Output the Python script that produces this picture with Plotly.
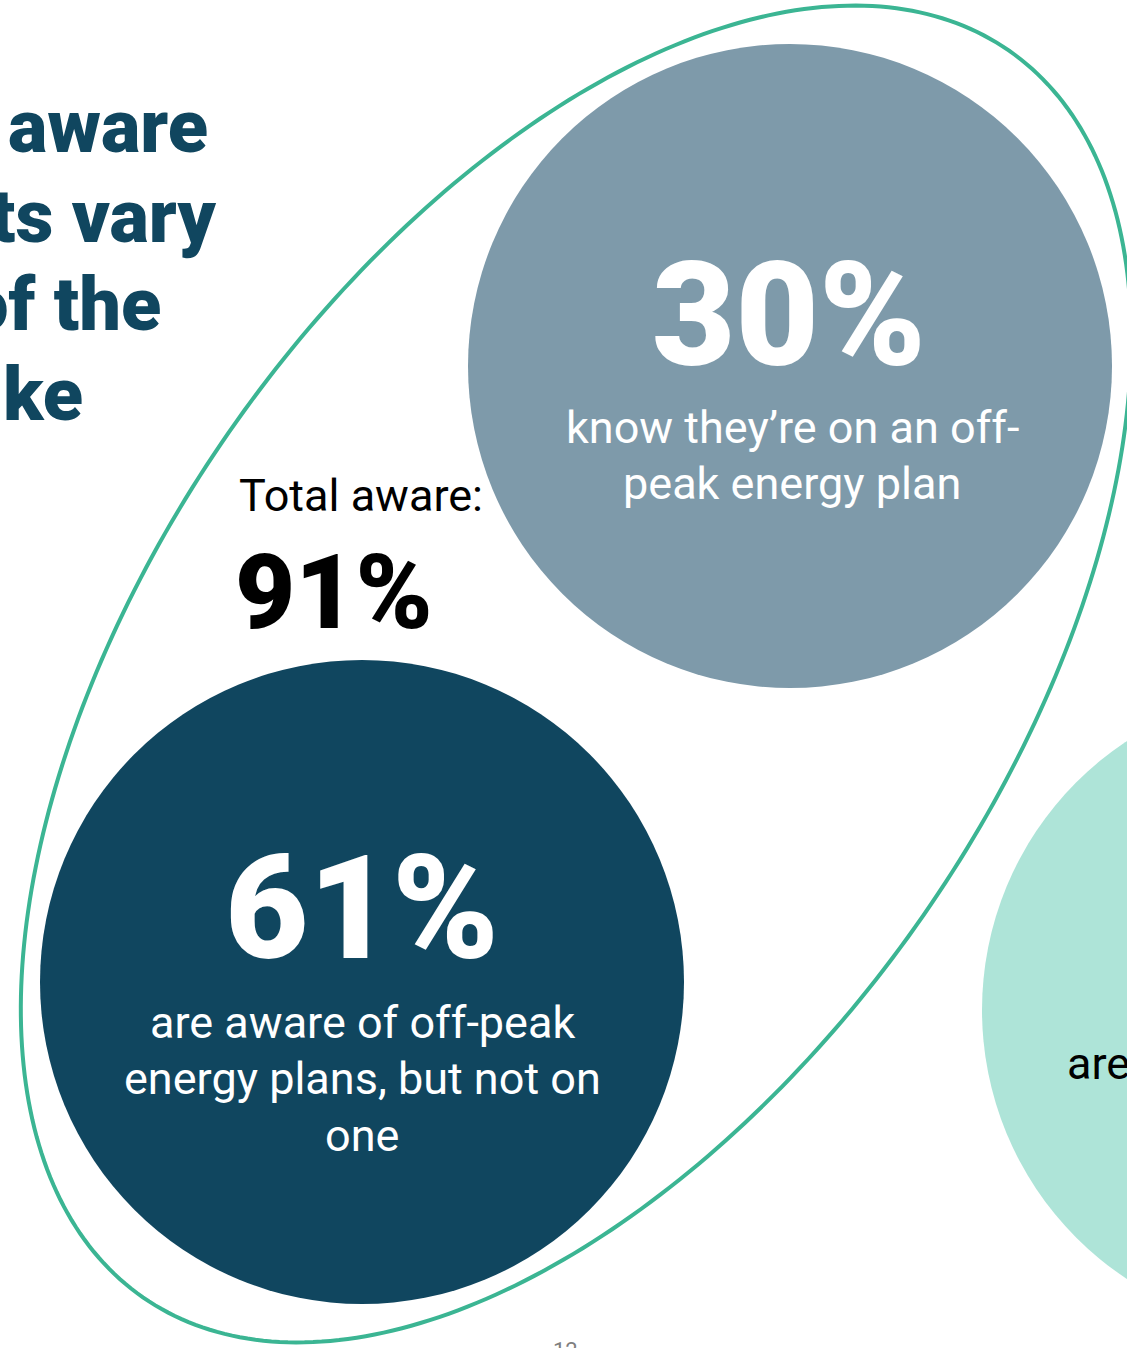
import numpy as np
import plotly.graph_objects as go

# ---- data -------------------------------------------------------------
segment_values = [30, 61]                       # % of respondents
segment_lines = [
    ["know they’re on an off-", "peak energy plan"],
    ["are aware of off-peak", "energy plans, but not on", "one"],
]
total_aware = 91                                # 30 + 61
unaware_label = "are"
title_lines = ["aware", "ts vary", "of the", "ke"]
page_number = "12"

# ---- palette ----------------------------------------------------------
NAVY = "#10465F"
SLATE = "#7E9AAA"
MINT = "#AEE4D8"
TEAL = "#3BB593"

W, H = 1127, 1348
HEAVY = "Roboto"
BODY = "Roboto"

fig = go.Figure()

# bubble geometry (pixel space, y grows downwards)
bubbles = [
    dict(cx=790, cy=366, r=322, color=SLATE),
    dict(cx=362, cy=982, r=322, color=NAVY),
    dict(cx=1304, cy=1010, r=322, color=MINT),
]

shapes = []
for b in bubbles:
    shapes.append(dict(type="circle", xref="x", yref="y",
                       x0=b["cx"] - b["r"], x1=b["cx"] + b["r"],
                       y0=b["cy"] - b["r"], y1=b["cy"] + b["r"],
                       fillcolor=b["color"], line=dict(width=0), layer="below"))

# tilted ellipse grouping the two "aware" bubbles
ecx, ecy, ea, eb = 576, 674, 759, 423
u = np.array([428.0, -616.0]); u /= np.linalg.norm(u)
v = np.array([-u[1], u[0]])
t = np.linspace(0, 2 * np.pi, 361)
ex = ecx + ea * np.cos(t) * u[0] + eb * np.sin(t) * v[0]
ey = ecy + ea * np.cos(t) * u[1] + eb * np.sin(t) * v[1]
path = "M " + " L ".join(f"{x:.2f},{y:.2f}" for x, y in zip(ex, ey)) + " Z"
shapes.append(dict(type="path", xref="x", yref="y", path=path,
                   line=dict(color=TEAL, width=4), fillcolor="rgba(0,0,0,0)",
                   layer="above"))

ann = []

def label(x, y, text, size, color, family=BODY, weight=400, xanchor="center"):
    ann.append(dict(x=x, y=y, text=text, showarrow=False,
                    xanchor=xanchor, yanchor="middle",
                    font=dict(family=family, size=size, color=color, weight=weight)))

# headline fragments (the text box runs off the left edge)
title_right = [210, 218, 163, 85]
title_base = [150, 240, 328, 418]
for txt, xr, yb in zip(title_lines, title_right, title_base):
    label(xr, yb - 24, txt, 74, NAVY, HEAVY, 900, "right")

# big percentages inside bubbles
label(789, 315, f"{segment_values[0]}%", 144, "white", HEAVY, 900)
label(362, 908, f"{segment_values[1]}%", 144, "white", HEAVY, 900)

# bubble descriptions, one line at a time
for i, line in enumerate(segment_lines[0]):
    label(792, 427 + 56 * i, line, 45, "white")
for i, line in enumerate(segment_lines[1]):
    label(362, 1022 + 56.5 * i, line, 45, "white")
label(1065, 1063, unaware_label, 45, "black", xanchor="left")

# total aware callout
label(237, 495, "Total aware:", 45, "black", xanchor="left")
label(233, 592, f"{total_aware}%", 104, "black", HEAVY, 900, "left")

# page number (sits at the slide's bottom edge)
ann.append(dict(x=565, y=1336, text=page_number, showarrow=False,
                xanchor="center", yanchor="top",
                font=dict(family=BODY, size=22, color="#7F7F7F")))

fig.update_layout(
    width=W, height=H, margin=dict(l=0, r=0, t=0, b=0),
    paper_bgcolor="white", plot_bgcolor="white",
    xaxis=dict(range=[0, W], visible=False, fixedrange=True),
    yaxis=dict(range=[H, 0], visible=False, fixedrange=True),
    shapes=shapes, annotations=ann, showlegend=False,
)

fig.write_html("out.html", config={"displayModeBar": False})
